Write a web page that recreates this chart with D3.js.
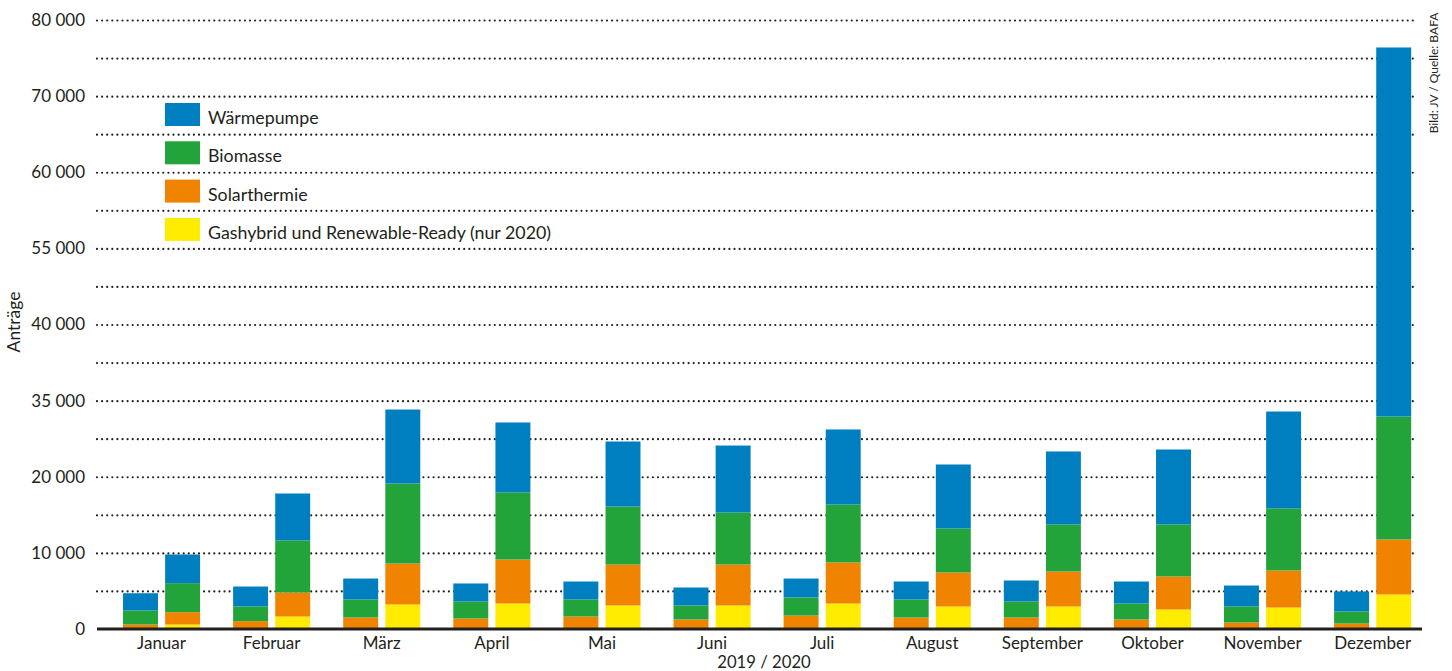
<!DOCTYPE html>
<html>
<head>
<meta charset="utf-8">
<script src="https://cdn.jsdelivr.net/npm/d3@7"></script>
<style>
  body { margin: 0; background: #fff; }
  svg text { font-family: Lato, "Noto Sans", sans-serif; fill: #231f20; }
</style>
</head>
<body>
<svg id="chart" width="1452" height="671"></svg>
<script>
// month categories
const months = ["Januar", "Februar", "März", "April", "Mai", "Juni",
                "Juli", "August", "September", "Oktober", "November", "Dezember"];
const years = ["2019", "2020"];

// series (Anträge per month)
const waermepumpe2019 = [2270, 2620, 2750, 2370, 2360, 2360, 2490, 2360, 2760, 2890, 2750, 2630];
const biomasse2019    = [1840, 1930, 2370, 2230, 2240, 1840, 2370, 2370, 2100, 2100, 2110, 1580];
const solar2019       = [ 590, 1030, 1510, 1380, 1640, 1250, 1770, 1510, 1510, 1250,  850,  720];
const gas2019         = [   0,    0,    0,    0,    0,    0,    0,    0,    0,    0,    0,    0];

const waermepumpe2020 = [3770, 6170, 9720, 9200, 8540, 8800, 9860, 8410, 9590, 9850, 12740, 48480];
const biomasse2020    = [3810, 6840, 10510, 8800, 7620, 6830, 7610, 5780, 6180, 6830, 8150, 16150];
const solar2020       = [1620, 3150, 5380, 5780, 5380, 5380, 5390, 4460, 4590, 4340, 4860, 7230];
const gas2020         = [ 590, 1640, 3220, 3350, 3090, 3090, 3350, 2960, 2960, 2560, 2820, 4530];

const seriesKeys   = ["gas", "solar", "biomasse", "waermepumpe"];
const seriesColors = ["#ffec00", "#f08300", "#22a43a", "#007fc0"];
const legendNames  = ["Wärmepumpe", "Biomasse", "Solarthermie", "Gashybrid und Renewable-Ready (nur 2020)"];
const legendColors = ["#007fc0", "#22a43a", "#f08300", "#ffec00"];

const yTicks      = [0, 10000, 20000, 30000, 40000, 50000, 60000, 70000, 80000];
const yTickLabels = ["0", "10 000", "20 000", "35 000", "40 000", "55 000", "60 000", "70 000", "80 000"];
const gridTicks   = d3.range(5000, 80001, 5000);

// build rows for the stack
let rows = [];
months.forEach(function(m, i) {
  rows.push({ month: m, year: "2019", gas: gas2019[i], solar: solar2019[i],
              biomasse: biomasse2019[i], waermepumpe: waermepumpe2019[i] });
  rows.push({ month: m, year: "2020", gas: gas2020[i], solar: solar2020[i],
              biomasse: biomasse2020[i], waermepumpe: waermepumpe2020[i] });
});

const svg = d3.select("svg#chart");

const plotLeft = 97, plotRight = 1422, plotTop = 20, plotBottom = 629;

let y = d3.scaleLinear().domain([0, 80000]).range([plotBottom, plotTop]);

let x0 = d3.scaleBand().domain(months).range([106.5, 1427.7])
           .paddingInner(0.3).paddingOuter(0.15);
let x1 = d3.scaleBand().domain(years).range([0, x0.bandwidth()]).paddingInner(0.17);

// dotted grid lines
svg.append("g")
  .attr("class", "grid")
  .attr("transform", `translate(${plotLeft},0)`)
  .call(d3.axisLeft(y).tickValues(gridTicks).tickSize(-(1415 - plotLeft)).tickFormat(""))
  .call(g => g.select(".domain").remove())
  .selectAll("line")
    .attr("stroke", "#231f20")
    .attr("stroke-width", 2.2)
    .attr("stroke-linecap", "round")
    .attr("stroke-dasharray", "0,5.1");

// y labels
svg.append("g")
  .attr("transform", `translate(${plotLeft},0)`)
  .call(d3.axisLeft(y).tickValues(yTicks).tickSize(0).tickPadding(12)
          .tickFormat(function(d, i) { return yTickLabels[i]; }))
  .call(g => g.select(".domain").remove())
  .selectAll("text")
    .attr("font-size", 17)
    .attr("font-family", "Lato, sans-serif")
    .attr("fill", "#231f20");

// stacked bars
let stacked = d3.stack().keys(seriesKeys)(rows);

svg.append("g").selectAll("g")
  .data(stacked)
  .enter().append("g")
    .attr("fill", function(d, i) { return seriesColors[i]; })
  .selectAll("rect")
  .data(function(d) { return d; })
  .enter().append("rect")
    .attr("x", function(d) { return x0(d.data.month) + x1(d.data.year); })
    .attr("width", x1.bandwidth())
    .attr("y", function(d) { return y(d[1]); })
    .attr("height", function(d) { return y(d[0]) - y(d[1]); });

// baseline
svg.append("line")
  .attr("x1", plotLeft).attr("x2", plotRight)
  .attr("y1", plotBottom).attr("y2", plotBottom)
  .attr("stroke", "#231f20")
  .attr("stroke-width", 3);

// month labels
svg.append("g")
  .attr("transform", `translate(0,${plotBottom})`)
  .call(d3.axisBottom(x0).tickSize(0).tickPadding(8))
  .call(g => g.select(".domain").remove())
  .selectAll("text")
    .attr("font-size", 17)
    .attr("font-family", "Lato, sans-serif")
    .attr("fill", "#231f20");

svg.append("text")
  .attr("x", 764)
  .attr("y", 668)
  .attr("text-anchor", "middle")
  .attr("font-size", 16.7)
  .text("2019 / 2020");

svg.append("text")
  .attr("transform", "translate(20,322) rotate(-90)")
  .attr("text-anchor", "middle")
  .attr("font-size", 17.5)
  .text("Anträge");

svg.append("text")
  .attr("transform", "translate(1438,73) rotate(-90)")
  .attr("text-anchor", "middle")
  .attr("font-size", 12)
  .attr("font-family", "'Liberation Sans Narrow', 'DejaVu Sans Condensed', sans-serif")
  .text("Bild: JV / Quelle: BAFA");

// legend
let legend = svg.append("g").attr("class", "legend");

legend.selectAll("rect")
  .data(legendNames)
  .enter().append("rect")
    .attr("x", 165)
    .attr("y", function(d, i) { return 103 + 38.3 * i; })
    .attr("width", 35)
    .attr("height", 23)
    .attr("fill", function(d, i) { return legendColors[i]; });

legend.selectAll("text")
  .data(legendNames)
  .enter().append("text")
    .attr("x", 208)
    .attr("y", function(d, i) { return 124 + 38.3 * i; })
    .attr("font-size", 17.8)
    .text(function(d) { return d; });
</script>
</body>
</html>
